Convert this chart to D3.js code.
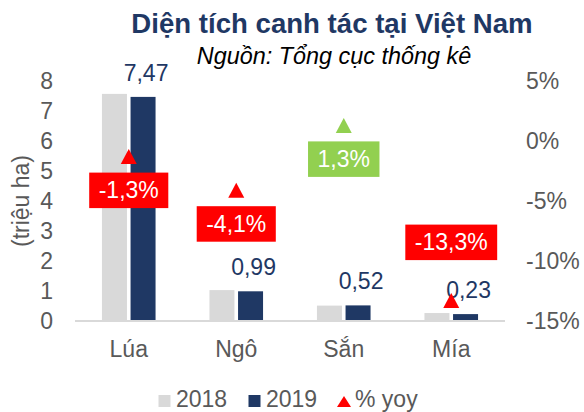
<!DOCTYPE html>
<html>
<head>
<meta charset="utf-8">
<script src="https://cdn.jsdelivr.net/npm/d3@7/dist/d3.min.js"></script>
<style>
  html, body { margin: 0; padding: 0; background: #fff; }
  svg text { font-family: "Liberation Sans", Arial, sans-serif; }
</style>
</head>
<body>
<svg id="chart" width="584" height="412"></svg>
<script>
// ---- data ----
const categories = ["Lúa", "Ngô", "Sắn", "Mía"];
const series = ["2018", "2019"];
const values2018 = [7.57, 1.03, 0.513, 0.265];
const values2019 = [7.47, 0.99, 0.52, 0.23];
const labels2019 = ["7,47", "0,99", "0,52", "0,23"];
const yoy = [-1.3, -4.1, 1.3, -13.3];
const yoyLabels = ["-1,3%", "-4,1%", "1,3%", "-13,3%"];
const yoyLabelSide = ["below", "below", "below", "above"];
const leftTicks = [0, 1, 2, 3, 4, 5, 6, 7, 8];
const rightTicks = [-15, -10, -5, 0, 5];
const rightTickLabels = ["-15%", "-10%", "-5%", "0%", "5%"];
const title = "Diện tích canh tác tại Việt Nam";
const subtitle = "Nguồn: Tổng cục thống kê";
const yTitle = "(triệu ha)";
const legendLabels = ["2018", "2019", "% yoy"];

// ---- styles ----
const C2018 = "#D9D9D9", C2019 = "#1F3864", RED = "#FF0000", GREEN = "#92D050";
const GREY = "#595959";
const FS = 23;

const svg = d3.select("#chart");

const x = d3.scaleBand().domain(categories).range([75, 505]).paddingInner(0).paddingOuter(0);
const xi = d3.scaleBand().domain(series).range([-26.8, 26.8]).paddingInner(0.126).paddingOuter(0);
const y = d3.scaleLinear().domain([0, 8]).range([321, 81]);
const yr = d3.scaleLinear().domain([-15, 5]).range([321, 81]);

// title
svg.append("text").attr("x", 332).attr("y", 33).attr("text-anchor", "middle")
  .attr("font-size", 27.6).attr("font-weight", "bold").attr("fill", C2019).text(title);
svg.append("text").attr("x", 334).attr("y", 64).attr("text-anchor", "middle")
  .attr("font-size", 23.4).attr("font-style", "italic").attr("fill", "#000").text(subtitle);

// left axis
const la = svg.append("g").attr("transform", "translate(53,0)")
  .call(d3.axisLeft(y).tickValues(leftTicks).tickSize(0).tickPadding(0).tickFormat(d3.format("d")));
la.select(".domain").remove();
la.selectAll("text").attr("font-size", FS).attr("fill", GREY)
  .style("font-family", '"Liberation Sans", Arial, sans-serif');

// right axis
const ra = svg.append("g").attr("transform", "translate(526,0)")
  .call(d3.axisRight(yr).tickValues(rightTicks).tickSize(0).tickPadding(0)
    .tickFormat((d, i) => rightTickLabels[rightTicks.indexOf(d)]));
ra.select(".domain").remove();
ra.selectAll("text").attr("font-size", FS).attr("fill", GREY)
  .style("font-family", '"Liberation Sans", Arial, sans-serif');

// y title
svg.append("text").attr("transform", "translate(29,201) rotate(-90)")
  .attr("text-anchor", "middle").attr("font-size", FS).attr("fill", GREY).text(yTitle);

// bars
const data = categories.map((c, i) => ({ c, i, v: [values2018[i], values2019[i]] }));
const groups = svg.append("g").selectAll("g").data(data).join("g")
  .attr("transform", d => `translate(${x(d.c) + x.bandwidth() / 2},0)`);
groups.selectAll("rect").data(d => series.map((s, k) => ({ s, v: d.v[k] }))).join("rect")
  .attr("x", d => xi(d.s)).attr("width", xi.bandwidth())
  .attr("y", d => y(d.v)).attr("height", d => y(0) - y(d.v))
  .attr("fill", d => d.s === "2018" ? C2018 : C2019);

// baseline
svg.append("line").attr("x1", x.range()[0]).attr("x2", x.range()[1])
  .attr("y1", y(0)).attr("y2", y(0)).attr("stroke", "#D9D9D9").attr("stroke-width", 2);

// value labels for 2019
groups.append("text")
  .attr("x", xi("2019") + xi.bandwidth() / 2 + 3)
  .attr("y", d => y(d.v[1]) - 16)
  .attr("text-anchor", "middle").attr("font-size", FS).attr("fill", C2019)
  .text(d => labels2019[d.i]);

// yoy markers
const tri = "M0,-7.5L8,7.5L-8,7.5Z";
const mk = svg.append("g").selectAll("g").data(categories).join("g")
  .attr("transform", (c, i) => `translate(${x(c) + x.bandwidth() / 2},${yr(yoy[i])})`);
mk.append("path").attr("d", tri).attr("fill", (c, i) => yoy[i] >= 0 ? GREEN : RED);

// yoy labels
const lb = svg.append("g").selectAll("g").data(categories).join("g");
lb.each(function (c, i) {
  const g = d3.select(this);
  const cx = x(c) + x.bandwidth() / 2;
  const h = 35.5;
  const top = yoyLabelSide[i] === "below" ? yr(yoy[i]) + 16 : yr(yoy[i]) - 40.5 - h;
  const rect = g.append("rect").attr("fill", yoy[i] >= 0 ? GREEN : RED);
  const t = g.append("text").attr("x", cx).attr("y", top + h / 2 + 8)
    .attr("text-anchor", "middle").attr("font-size", FS).attr("fill", "#fff").text(yoyLabels[i]);
  const w = t.node().getComputedTextLength() + 19;
  rect.attr("x", cx - w / 2).attr("y", top).attr("width", w).attr("height", h);
});

// legend
const lg = svg.append("g");
lg.append("rect").attr("x", 158.5).attr("y", 395).attr("width", 12).attr("height", 12).attr("fill", C2018);
lg.append("text").attr("x", 176).attr("y", 407).attr("font-size", FS).attr("fill", GREY).text(legendLabels[0]);
lg.append("rect").attr("x", 248.5).attr("y", 395).attr("width", 12).attr("height", 12).attr("fill", C2019);
lg.append("text").attr("x", 266).attr("y", 407).attr("font-size", FS).attr("fill", GREY).text(legendLabels[1]);
lg.append("path").attr("d", "M344,396L351,407L337,407Z").attr("fill", RED);
lg.append("text").attr("x", 355).attr("y", 407).attr("font-size", FS).attr("fill", GREY).text(legendLabels[2]);

// category labels
svg.append("g").selectAll("text").data(categories).join("text")
  .attr("x", c => x(c) + x.bandwidth() / 2).attr("y", 357)
  .attr("text-anchor", "middle").attr("font-size", FS).attr("fill", GREY).text(c => c);
</script>
</body>
</html>
